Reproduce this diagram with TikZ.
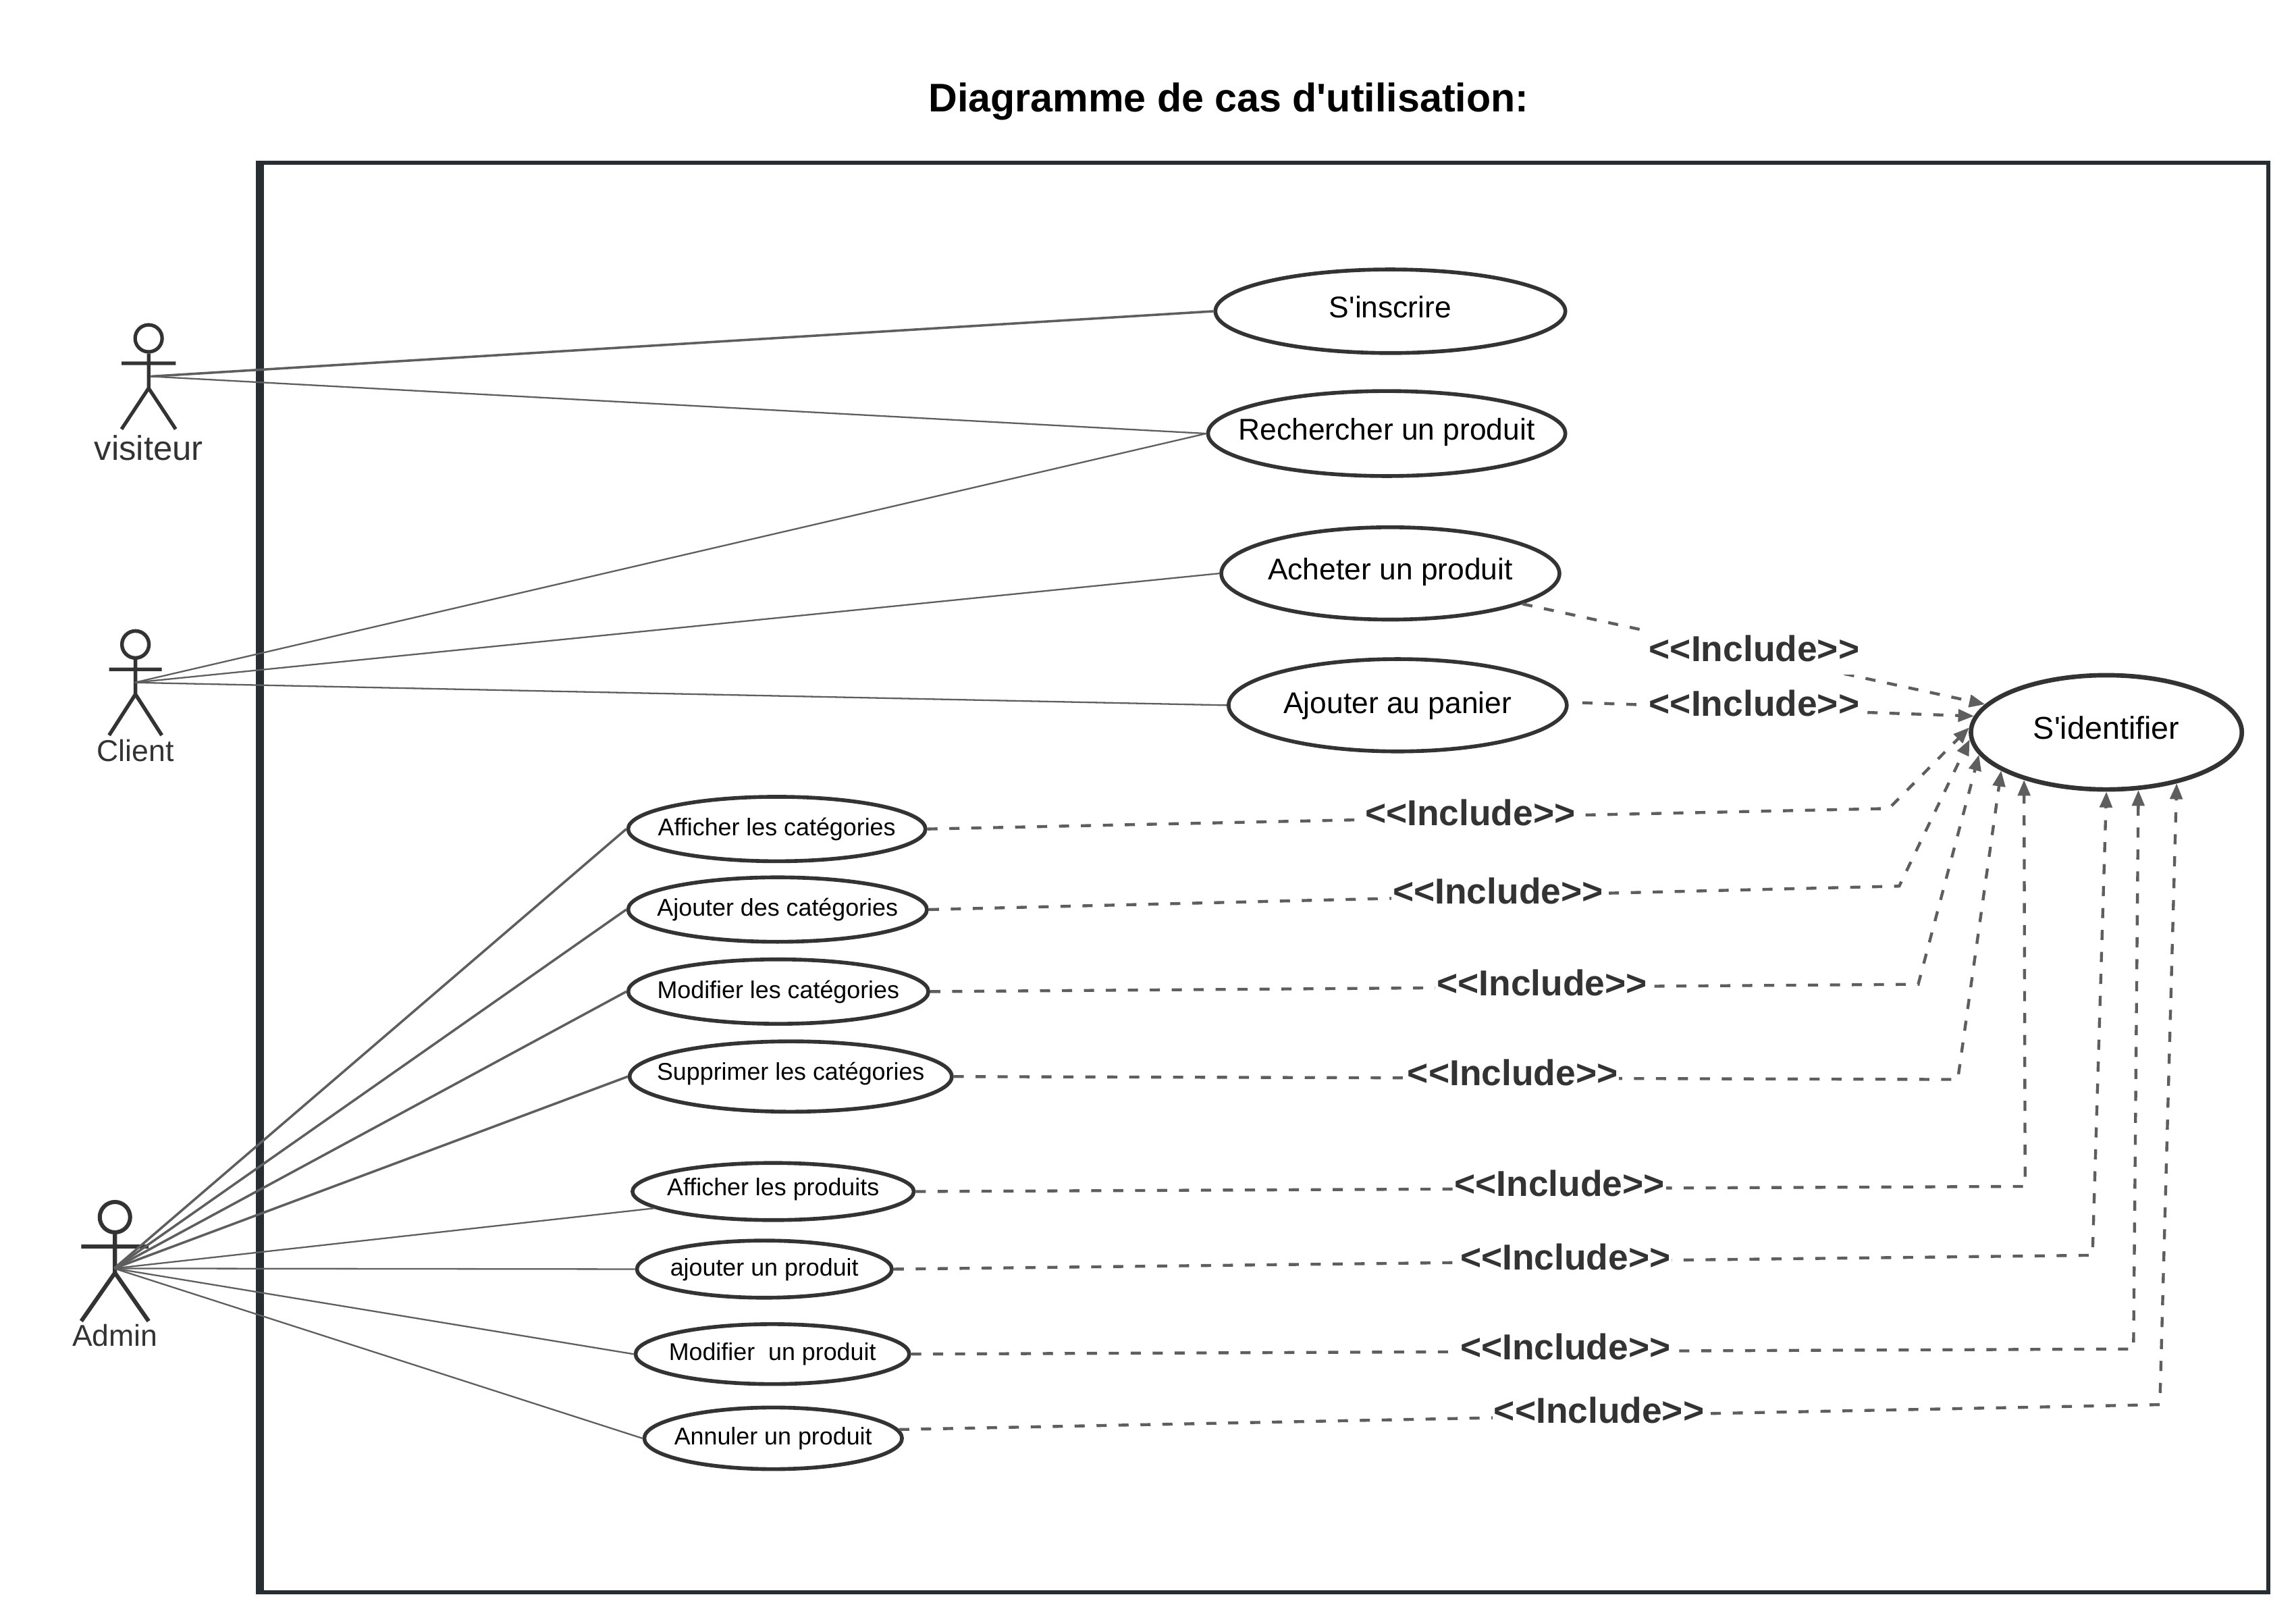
\documentclass[tikz,border=0pt]{standalone}
\usepackage{fontspec}
\setmainfont{Liberation Sans}
\usetikzlibrary{shapes.geometric,arrows.meta}
\definecolor{framec}{HTML}{282C33}
\definecolor{inkc}{HTML}{333333}
\definecolor{linec}{HTML}{5E5E5E}
\newcommand\uct[1]{\makebox[0pt]{#1}}
\newcommand\inclt{<\kern0pt<Include>\kern0pt>}
\tikzset{
  x=0.5205pt,y=-0.5205pt,
  ucbox/.style={draw=inkc,ellipse,fill=white,inner sep=0pt,line width=1.35pt,text=black,text height=0.72em,text depth=0.26em},
  bigcase/.style={ucbox,font=\fontsize{10.65}{13}\selectfont},
  smallcase/.style={ucbox,font=\fontsize{8.6}{10}\selectfont},
  assoc/.style={draw=linec,line width=0.55pt},
  assocthick/.style={draw=linec,line width=0.85pt},
  incl/.style={draw=linec,line width=1.05pt,dash pattern=on 3.6pt off 4.2pt,-{Triangle[length=5.6pt,width=4.4pt]}},
  incllabel/.style={fill=white,inner xsep=0.5pt,inner ysep=4.5pt,text=inkc,font=\bfseries\fontsize{12.8}{14}\selectfont},
  stick/.style={draw=inkc,line width=1.25pt},
  actorname/.style={text=inkc,inner sep=0pt,anchor=base},
}
\begin{document}
\begin{tikzpicture}
\useasboundingbox (0,0) rectangle (1568,1107.4);
% frame
\draw[framec,line width=1.45pt] (177,111) -- (1549,111) -- (1549,1087) -- (177,1087);
\draw[framec,line width=2.65pt] (177.5,109.6) -- (177.5,1088.4);
\node (title) at (839,69.5) [inner sep=0pt,font=\bfseries\fontsize{14.2}{16}\selectfont] {Diagramme de cas d\textquotesingle utilisation:};
% actors
\node[stick,circle,inner sep=0pt,minimum size=9.6pt] (headV) at (101.5,231) {};
\draw[stick] (headV.south) -- (101.5,265) (83,248) -- (120,248) (83,293) -- (101.5,265) -- (120,293);
\coordinate (ptV) at (103,257);
\node[actorname,font=\fontsize{12.2}{14}\selectfont] (nameV) at (101.5,314) {visiteur};
\node[stick,circle,inner sep=0pt,minimum size=9.6pt,line width=1.3pt] (headC) at (92.5,440) {};
\draw[stick,line width=1.3pt] (headC.south) -- (92.5,474) (74.5,457) -- (110.5,457) (74.5,502) -- (92.5,474) -- (110.5,502);
\coordinate (ptC) at (92,466);
\node[actorname,font=\fontsize{10.7}{13}\selectfont] (nameC) at (92.5,520) {Client};
\node[stick,circle,inner sep=0pt,minimum size=10.8pt,line width=1.45pt] (headA) at (78.5,831) {};
\draw[stick,line width=1.45pt] (headA.south) -- (78.5,869) (55.5,851) -- (101.5,851) (55.5,902) -- (78.5,869) -- (101.5,902);
\coordinate (ptA) at (78,866);
\node[actorname,font=\fontsize{10.7}{13}\selectfont] (nameA) at (78.5,919) {Admin};
% use cases
\node[bigcase,minimum width=124.4pt,minimum height=29.7pt] (inscrire) at (949.5,212.5) {\uct{S\textquotesingle inscrire}};
\node[bigcase,minimum width=127pt,minimum height=30.2pt] (recherche) at (947,296) {\uct{Rechercher un produit}};
\node[bigcase,minimum width=120.2pt,minimum height=32.8pt] (acheter) at (949.5,391.5) {\uct{Acheter un produit}};
\node[bigcase,minimum width=120.2pt,minimum height=32.8pt,text depth=0.15em] (panier) at (954.5,481.5) {\uct{Ajouter au panier}};
\node[bigcase,minimum width=96.3pt,minimum height=40.6pt,line width=1.6pt,font=\fontsize{11.2}{13}\selectfont] (identifier) at (1438.5,500) {\uct{S\textquotesingle identifier}};
\node[smallcase,minimum width=105.7pt,minimum height=22.9pt] (affcat) at (530.5,566) {\uct{Afficher les catégories}};
\node[smallcase,minimum width=106.2pt,minimum height=22.9pt] (ajcat) at (531,621) {\uct{Ajouter des catégories}};
\node[smallcase,minimum width=106.7pt,minimum height=22.9pt] (modcat) at (531.5,677) {\uct{Modifier les catégories}};
\node[smallcase,minimum width=114.5pt,minimum height=25pt,text depth=0.45em] (supcat) at (540,735) {\uct{Supprimer les catégories}};
\node[smallcase,minimum width=100pt,minimum height=20.3pt,text depth=0.45em] (affprod) at (528,813.5) {\uct{Afficher les produits}};
\node[smallcase,minimum width=90.6pt,minimum height=20.3pt] (ajprod) at (522,866.5) {\uct{ajouter un produit}};
\node[smallcase,minimum width=97.3pt,minimum height=21.3pt] (modprod) at (527.5,924.5) {\uct{Modifier\ \ un produit}};
\node[smallcase,minimum width=91.6pt,minimum height=21.9pt] (annprod) at (528,982) {\uct{Annuler un produit}};
% associations
\draw[assocthick] (ptV) -- (inscrire.west);
\draw[assoc] (ptV) -- (recherche.west);
\draw[assoc] (ptC) -- (recherche.west);
\draw[assoc] (ptC) -- (acheter.west);
\draw[assoc] (ptC) -- (panier.west);
\draw[assocthick] (ptA) -- (affcat.west);
\draw[assocthick] (ptA) -- (ajcat.west);
\draw[assocthick] (ptA) -- (modcat.west);
\draw[assocthick] (ptA) -- (supcat.west);
\draw[assoc] (ptA) -- (affprod.188);
\draw[assoc] (ptA) -- (ajprod.west);
\draw[assoc] (ptA) -- (modprod.west);
\draw[assoc] (ptA) -- (annprod.west);
% includes
\draw[incl] (acheter.347.8) -- (identifier.167.8);
\draw[incl,shorten <=5pt] (panier.1) -- (identifier.173.5);
\draw[incl] (affcat.east) -- (1290,552) -- (identifier.178);
\draw[incl] (ajcat.east) -- (1297,605) -- (identifier.183);
\draw[incl] (modcat.east) -- (1310,672) -- (identifier.190);
\draw[incl] (supcat.east) -- (1337,737) -- (identifier.200.7);
\draw[incl] (affprod.east) -- (1383,810) -- (identifier.210.3);
\draw[incl] (ajprod.east) -- (1429,857) -- (identifier.270);
\draw[incl] (modprod.east) -- (1457,921) -- (identifier.299.4);
\draw[incl] (annprod.4) -- (1475,959) -- (identifier.324.2);
% labels
\node[incllabel] (l1) at (1198,443) {\inclt};
\node[incllabel] (l2) at (1198,480) {\inclt};
\node[incllabel] (l3) at (1004,555) {\inclt};
\node[incllabel] (l4) at (1023,608.5) {\inclt};
\node[incllabel] (l5) at (1053,671) {\inclt};
\node[incllabel] (l6) at (1033,732.5) {\inclt};
\node[incllabel] (l7) at (1065,808) {\inclt};
\node[incllabel] (l8) at (1069,858) {\inclt};
\node[incllabel] (l9) at (1069,919.5) {\inclt};
\node[incllabel] (l10) at (1092,963) {\inclt};
\end{tikzpicture}
\end{document}
